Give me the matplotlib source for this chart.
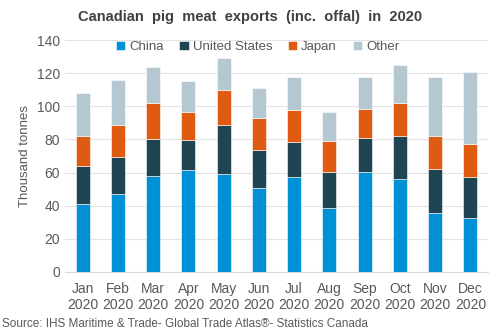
import matplotlib
matplotlib.use("Agg")
import matplotlib.pyplot as plt
import numpy as np

plt.rcParams['font.family'] = ['Liberation Sans', 'DejaVu Sans']

months = ["Jan\n2020", "Feb\n2020", "Mar\n2020", "Apr\n2020", "May\n2020", "Jun\n2020",
          "Jul\n2020", "Aug\n2020", "Sep\n2020", "Oct\n2020", "Nov\n2020", "Dec\n2020"]
series_names = ["China", "United States", "Japan", "Other"]
china = [40.8, 47.0, 58.0, 61.4, 59.2, 50.4, 57.2, 38.6, 60.2, 55.8, 35.8, 32.8]
usa = [23.0, 22.4, 22.4, 18.2, 29.6, 23.4, 21.0, 22.0, 20.6, 26.0, 26.6, 24.4]
japan = [18.4, 19.4, 21.8, 16.8, 20.8, 19.0, 19.6, 18.6, 17.8, 20.4, 19.8, 20.2]
other = [25.8, 27.0, 21.6, 18.8, 19.8, 18.2, 19.6, 17.6, 18.8, 22.8, 35.2, 43.6]
colors = ["#0090d5", "#1f4452", "#e05b12", "#b5c7d0"]

text_col = "#595959"

fig = plt.figure(figsize=(5, 3.34), dpi=100)
ax = fig.add_axes([0.13, 0.186, 0.846, 0.694])

x = np.arange(len(months))
bottom = np.zeros(len(months))
for name, vals, c in zip(series_names, [china, usa, japan, other], colors):
    ax.bar(x, vals, width=0.4, bottom=bottom, color=c, label=name,
           edgecolor="white", linewidth=0.4, zorder=3)
    bottom += np.array(vals)

ax.set_ylim(0, 140)
ax.set_yticks(range(0, 141, 20))
ax.set_xlim(-0.5, len(months) - 0.5)
ax.set_xticks(x)
ax.set_xticklabels(months)
ax.grid(axis="y", color="#e3e3e3", linewidth=0.8, zorder=0)
for s in ["top", "right", "left"]:
    ax.spines[s].set_visible(False)
ax.spines["bottom"].set_color("#d9d9d9")
ax.tick_params(axis="both", length=0, colors=text_col, labelsize=10)
ax.tick_params(axis="x", pad=7)
ax.set_ylabel("Thousand tonnes", color=text_col, fontsize=9.5)

fig.text(0.5, 0.95, "Canadian  pig  meat  exports  (inc.  offal)  in  2020",
         ha="center", va="center", fontsize=10.5, fontweight="bold", color="#404040")

ax.legend(loc="center", bbox_to_anchor=(0.515, 0.86), bbox_transform=fig.transFigure,
          ncol=4, frameon=False, fontsize=9.5, handlelength=0.7, handleheight=0.7,
          handletextpad=0.3, columnspacing=1.2, labelcolor=text_col)

fig.text(0.005, 0.03, "Source: IHS Maritime & Trade- Global Trade Atlas\u00ae- Statistics Canada",
         ha="left", va="center", fontsize=8.5, color=text_col)

fig.savefig("out.png", dpi=100)
